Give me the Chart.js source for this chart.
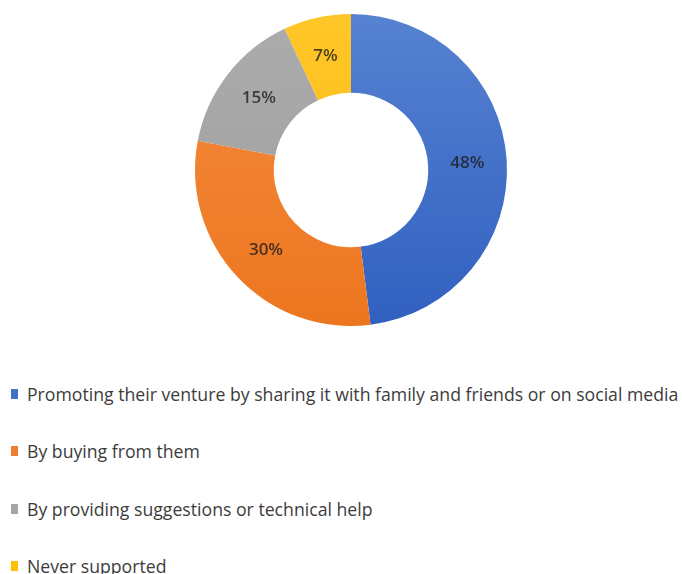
<!DOCTYPE html>
<html>
<head>
<meta charset="utf-8">
<script src="https://cdn.jsdelivr.net/npm/chart.js@4/dist/chart.umd.min.js"></script>
<style>
  html, body { margin: 0; padding: 0; background: #ffffff; }
  body { width: 682px; height: 574px; position: relative; overflow: hidden; }
  #wrap { position: absolute; left: 0; top: 0; width: 682px; height: 340px; }
  #legend { position: absolute; left: 0; top: 384px; margin: 0; padding: 0; list-style: none; }
  #legend li { position: relative; height: 57.4px; line-height: 20px; white-space: nowrap; }
  #legend .box { position: absolute; left: 11px; top: 5px; width: 7px; height: 10px; }
  #legend .txt { position: absolute; left: 27px; top: 0; font-family: "Open Sans", sans-serif;
                 font-size: 18px; color: #3c3c3c; transform-origin: 0 50%; }
</style>
</head>
<body>
<div id="wrap"><canvas id="c" width="682" height="340"></canvas></div>
<ul id="legend"></ul>
<script>
// Ways people supported the venture (share of respondents, %)
const categories = [
  "Promoting their venture by sharing it with family and friends or on social media",
  "By buying from them",
  "By providing suggestions or technical help",
  "Never supported"
];
const shares = [48, 30, 15, 7];
// Top and bottom tones of each slice's vertical gradient
const topColors = ["#5682d1", "#f68c40", "#acacac", "#ffc628"];
const bottomColors = ["#3160c0", "#ec761f", "#9d9d9d", "#fbbb10"];
const flatColors = ["#4472c4", "#ed7d31", "#a5a5a5", "#ffc000"];

function sliceFill(ctx) {
  const chart = ctx.chart;
  const area = chart.chartArea;
  const i = ctx.dataIndex;
  if (!area) return flatColors[i];
  const g = chart.ctx.createLinearGradient(0, area.top, 0, area.bottom);
  g.addColorStop(0, topColors[i]);
  g.addColorStop(1, bottomColors[i]);
  return g;
}

// Percentage text drawn at the middle of each arc
const sliceLabels = {
  id: 'sliceLabels',
  afterDatasetsDraw(chart) {
    const ctx = chart.ctx;
    const meta = chart.getDatasetMeta(0);
    ctx.save();
    ctx.font = '600 17px "Open Sans", sans-serif';
    ctx.fillStyle = 'rgba(25,25,25,0.78)';
    ctx.textAlign = 'center';
    ctx.textBaseline = 'middle';
    meta.data.forEach((arc, i) => {
      const p = arc.getCenterPoint();
      ctx.fillText(shares[i] + '%', p.x, p.y);
    });
    ctx.restore();
  }
};

const chart = new Chart(document.getElementById('c'), {
  type: 'doughnut',
  data: {
    labels: categories,
    datasets: [{
      data: shares,
      backgroundColor: sliceFill,
      borderWidth: 0,
      hoverOffset: 0
    }]
  },
  options: {
    responsive: false,
    animation: false,
    cutout: '49.5%',
    layout: { padding: { left: 20, right: 0, top: 14, bottom: 14 } },
    plugins: {
      legend: { display: false },
      tooltip: { enabled: false }
    }
  },
  plugins: [sliceLabels]
});

// Legend list built from the chart's own labels and colours
const legendEl = document.getElementById('legend');
const items = chart.options.plugins.legend.labels.generateLabels(chart);
const measure = document.createElement('canvas').getContext('2d');
measure.font = '18px "Open Sans", sans-serif';
const squeeze = 651 / measure.measureText(categories[0]).width;
items.forEach((it, i) => {
  const li = document.createElement('li');
  const box = document.createElement('span');
  box.className = 'box';
  box.style.background = flatColors[i];
  const txt = document.createElement('span');
  txt.className = 'txt';
  txt.textContent = it.text;
  txt.style.transform = 'scaleX(' + squeeze.toFixed(3) + ')';
  li.appendChild(box);
  li.appendChild(txt);
  legendEl.appendChild(li);
});
</script>
</body>
</html>
